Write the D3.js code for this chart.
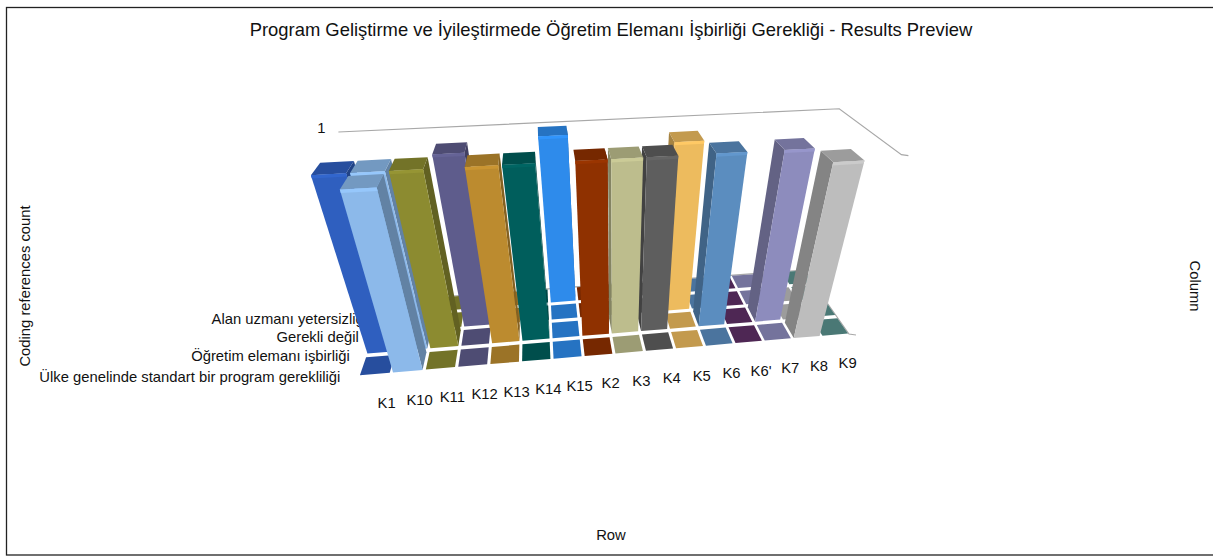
<!DOCTYPE html>
<html>
<head>
<meta charset="utf-8">
<script src="https://cdn.jsdelivr.net/npm/d3@7"></script>
<style>
  html, body { margin: 0; padding: 0; background: #fff; }
  text { font-family: "Liberation Sans", Arial, sans-serif; fill: #111; }
</style>
</head>
<body>
<div id="vis"></div>
<script>
const width = 1213;
const height = 556;

const title = "Program Geliştirme ve İyileştirmede Öğretim Elemanı İşbirliği Gerekliği - Results Preview";

// columns run left to right, rows run front to back
const columns = ["K1", "K10", "K11", "K12", "K13", "K14", "K15", "K2", "K3", "K4", "K5", "K6", "K6'", "K7", "K8", "K9"];
const rows = ["Ülke genelinde standart bir program gerekliliği", "Öğretim elemanı işbirliği", "Gerekli değil", "Alan uzmanı yetersizliği"];
const yTicks = [1];

const ulke =    [0, 1, 0, 0, 0, 0, 0, 0, 0, 0, 0, 0, 0, 0, 1, 0];
const ogretim = [1, 1, 1, 0, 1, 1, 0, 1, 1, 1, 0, 1, 0, 1, 0, 0];
const gerekli = [0, 0, 0, 1, 0, 0, 0, 0, 0, 0, 1, 0, 0, 0, 0, 0];
const alan =    [0, 0, 0, 0, 0, 0, 1, 0, 0, 0, 0, 0, 0, 0, 0, 0];
const series = [ulke, ogretim, gerekli, alan];

const colors = ["#2f5fbf", "#8cb9ea", "#8c8b30", "#5e5c8c", "#bc8b2f", "#005e5c", "#2e8beb", "#8f3100",
    "#bdbd8d", "#5e5e5e", "#edbb5e", "#5b8dbf", "#5e2f66", "#8d8cbd", "#bdbdbd", "#5a918e"];

//the screen quad of the floor and the point the verticals run to
const floorFL = [359, 376], floorFR = [849, 334], floorBR = [804, 270], floorBL = [385, 301];
const vanish = [615, 1135];
const wallTopY = 132;

//unit square to quad
function squareToQuad(p0, p1, p2, p3) {
    const dx1 = p1[0] - p2[0], dx2 = p3[0] - p2[0], sx = p0[0] - p1[0] + p2[0] - p3[0];
    const dy1 = p1[1] - p2[1], dy2 = p3[1] - p2[1], sy = p0[1] - p1[1] + p2[1] - p3[1];
    const det = dx1 * dy2 - dx2 * dy1;
    const g = (sx * dy2 - dx2 * sy) / det;
    const h = (dx1 * sy - sx * dy1) / det;
    return [p1[0] - p0[0] + g * p1[0], p3[0] - p0[0] + h * p3[0], p0[0],
            p1[1] - p0[1] + g * p1[1], p3[1] - p0[1] + h * p3[1], p0[1], g, h];
}
const H = squareToQuad(floorFL, floorFR, floorBR, floorBL);

//height factor so that the top of the wall at the back left corner lands on wallTopY
const wBL = H[7] + 1;
const k = -(floorBL[1] - wallTopY) / (vanish[1] - wallTopY) * wBL;

function project(x, y, z) {
    const w = H[6] * x + H[7] * z + 1 + k * y;
    return [
        (H[0] * x + H[1] * z + H[2] + k * y * vanish[0]) / w,
        (H[3] * x + H[4] * z + H[5] + k * y * vanish[1]) / w
    ];
}

let svg = d3.select("#vis")
    .append("svg")
    .attr("width", width)
    .attr("height", height)
    .style("display", "block");

//frame, the right side runs off the picture
svg.append("rect")
    .attr("x", 6.5).attr("y", 7.5)
    .attr("width", 1300).attr("height", 547.5)
    .attr("fill", "#fff")
    .attr("stroke", "#222")
    .attr("stroke-width", 1.3);

//creating scales
var xScale = d3.scaleBand().domain(columns).range([0, 1]).paddingInner(0.1).paddingOuter(0.02);
var zScale = d3.scaleBand().domain(rows).range([0, 1]).paddingInner(0.18).paddingOuter(0.03);
var yScale = d3.scaleLinear().domain([0, 1.02]).range([0, 1]);

const line = d3.line();
const poly = pts => line(pts) + "Z";
const fontSize = "14.8px";

//title and axis names
svg.append("text").attr("x", 611).attr("y", 36).attr("text-anchor", "middle")
    .style("font-size", "18.4px").text(title);
svg.append("text").attr("x", 611).attr("y", 540).attr("text-anchor", "middle")
    .style("font-size", fontSize).text("Row");
svg.append("text").attr("transform", "translate(30,286) rotate(-90)").attr("text-anchor", "middle")
    .style("font-size", fontSize).text("Coding references count");
svg.append("text").attr("transform", "translate(1190,286) rotate(90)").attr("text-anchor", "middle")
    .style("font-size", fontSize).text("Column");

//tick on the wall
yTicks.forEach(t => {
    const p = project(0, 1, 1);
    svg.append("text").attr("x", p[0] - 17).attr("y", p[1] + 0.5).attr("text-anchor", "middle")
        .style("font-size", fontSize).text(t);
});

//wall outline and floor edges
const wallColor = "#a8a8a8";
const topFront = project(1, 1, 0);
svg.append("path")
    .attr("d", line([project(0, 1, 1), project(1, 1, 1), topFront, [topFront[0] + 7, topFront[1] + 1]]))
    .attr("fill", "none").attr("stroke", wallColor).attr("stroke-width", 1.2);
const floorFront = project(1, 0, 0);
svg.append("path")
    .attr("d", line([project(0, 0, 1), project(1, 0, 1), floorFront, [floorFront[0] + 7, floorFront[1] + 1]]))
    .attr("fill", "none").attr("stroke", wallColor).attr("stroke-width", 1.2);

//row labels, the bars are painted over them
rows.forEach((r, i) => {
    const p = project(0, 0, zScale(r) + zScale.bandwidth() / 2);
    svg.append("text").attr("x", p[0] - 22 + i * 2.2).attr("y", p[1] + 16).attr("text-anchor", "end")
        .style("font-size", fontSize).text(r);
});

//column labels
columns.forEach(c => {
    const p = project(xScale(c) + xScale.bandwidth() / 2, 0, 0);
    svg.append("text").attr("x", p[0] + 12).attr("y", p[1] + 33).attr("text-anchor", "middle")
        .style("font-size", fontSize).text(c);
});

//flat tiles first
const cells = [];
series.forEach((vals, ri) => vals.forEach((v, ci) => cells.push({ ri, ci, v })));

const gTiles = svg.append("g");
cells.filter(d => d.v === 0).forEach(d => {
    const x0 = xScale(columns[d.ci]), x1 = x0 + xScale.bandwidth();
    const z0 = zScale(rows[d.ri]), z1 = z0 + zScale.bandwidth();
    gTiles.append("path")
        .attr("d", poly([project(x0, 0, z0), project(x1, 0, z0), project(x1, 0, z1), project(x0, 0, z1)]))
        .attr("fill", d3.color(colors[d.ci]).darker(0.54));
});

//bars, back rows first and from the outside in
const gBars = svg.append("g");
const midColumn = 8;
cells.filter(d => d.v > 0)
    .sort((a, b) => (b.ri - a.ri) || (Math.abs(b.ci - midColumn) - Math.abs(a.ci - midColumn)))
    .forEach(d => {
        const x0 = xScale(columns[d.ci]), x1 = x0 + xScale.bandwidth();
        const z0 = zScale(rows[d.ri]), z1 = z0 + zScale.bandwidth();
        const y1 = yScale(d.v);
        const base = d3.color(colors[d.ci]);

        //the side that faces the viewer
        const sx = d.ci < midColumn ? x1 : x0;
        gBars.append("path")
            .attr("d", poly([project(sx, 0, z0), project(sx, 0, z1), project(sx, y1, z1), project(sx, y1, z0)]))
            .attr("fill", base.darker(1));
        gBars.append("path")
            .attr("d", poly([project(x0, y1, z0), project(x1, y1, z0), project(x1, y1, z1), project(x0, y1, z1)]))
            .attr("fill", base.darker(0.54));
        gBars.append("path")
            .attr("d", poly([project(x0, 0, z0), project(x1, 0, z0), project(x1, y1, z0), project(x0, y1, z0)]))
            .attr("fill", base);
        gBars.append("path")
            .attr("d", poly([project(x0, y1 * 0.985, z0), project(x1, y1 * 0.985, z0), project(x1, y1, z0), project(x0, y1, z0)]))
            .attr("fill", base.brighter(0.2));
    });
</script>
</body>
</html>
